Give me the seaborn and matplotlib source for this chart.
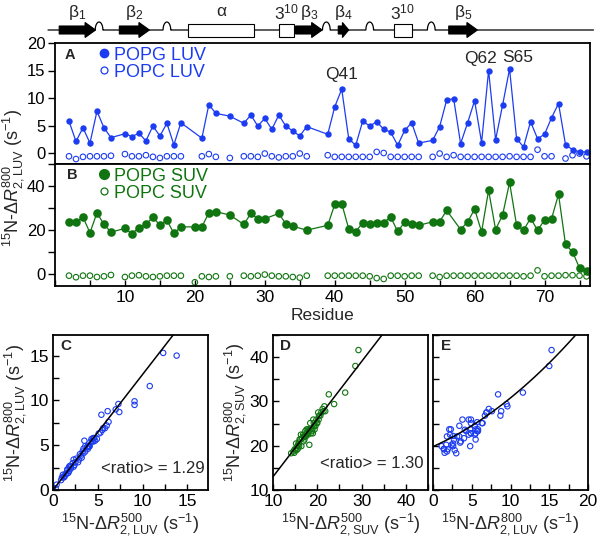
import numpy as np
import matplotlib
matplotlib.use("Agg")
import matplotlib.pyplot as plt
from matplotlib.lines import Line2D
from matplotlib.patches import Rectangle, Polygon
from matplotlib.ticker import MultipleLocator, NullFormatter
import seaborn as sns

# ---- data ----
# panel A: 15N-dR2 at 800 MHz, LUVs
res_a = [2, 3, 4, 5, 6, 7, 8, 10, 11, 12, 13, 14, 15, 16, 17, 18, 21, 22, 23, 25,
         27, 28, 29, 30, 31, 32, 33, 34, 35, 36, 39, 40, 41, 42, 43, 44, 45, 46, 47,
         48, 49, 50, 51, 52, 54, 55, 56, 57, 58, 59, 60, 61, 62, 63, 64, 65, 66, 67,
         68, 69, 70, 71, 72, 73, 74, 75, 76]
popg_luv = [5.8, 2.1, 4.6, 1.8, 7.6, 4.6, 2.8, 3.5, 3.0, 3.6, 2.2, 4.9, 3.1, 5.4, 1.5, 5.5,
            2.7, 8.8, 7.2, 6.7, 5.4, 6.9, 4.9, 6.3, 4.3, 6.9, 4.9, 4.0, 3.1, 4.8, 3.4, 8.4,
            11.6, 2.6, 1.4, 5.8, 4.9, 5.7, 4.3, 3.8, 1.4, 4.1, 5.5, 1.8, 2.3, 4.8, 9.6, 9.9,
            1.7, 5.5, 9.5, 1.9, 15.0, 2.4, 8.7, 15.3, 2.6, 1.1, 5.7, 2.6, 3.4, 6.4, 9.0,
            1.5, 0.6, 0.2, 0.2]
res_a_open = [2, 3, 4, 5, 6, 7, 8, 10, 11, 12, 13, 14, 15, 16, 17, 18, 21, 22, 23, 25,
              27, 28, 29, 30, 31, 32, 33, 34, 35, 36, 39, 40, 41, 42, 43, 44, 45, 46, 47,
              48, 49, 50, 51, 52, 54, 55, 56, 57, 58, 59, 60, 61, 62, 63, 64, 65, 66, 67,
              68, 69, 70, 71, 73, 74, 75, 76]
popc_luv = [-0.6, -1.1, -0.7, -0.6, -0.6, -0.6, -0.5, -0.2, -0.6, -0.6, -0.4, -0.7, -0.9,
            -0.6, -0.6, -0.6, -0.6, -0.2, -0.7, -0.9, -0.6, -0.6, -0.7, -0.1, -0.6, -0.8,
            -0.6, -0.6, -0.1, -0.6, -0.4, -0.7, -0.7, -0.7, -0.7, -0.7, -0.7, 0.2, 0.0,
            -0.7, -0.7, -0.7, -0.7, -0.7, -0.7, -0.1, -0.7, -0.4, -0.7, -0.7, -0.7, -0.7,
            -0.7, -0.7, -0.7, -0.6, -0.7, -0.7, -0.7, 0.6, -0.6, -0.6, -1.0, -0.4, -0.1, -0.6]

# panel B: 15N-dR2 at 800 MHz, SUVs
res_b = [2, 3, 4, 5, 6, 7, 8, 10, 11, 12, 13, 14, 15, 16, 17, 18, 20, 21, 22, 23, 25,
         27, 28, 29, 30, 32, 33, 34, 36, 39, 40, 41, 42, 43, 44, 45, 46, 47, 48, 49, 50,
         51, 52, 54, 55, 56, 58, 59, 60, 61, 62, 63, 64, 65, 66, 67, 68, 69, 70, 71, 72,
         73, 74, 75, 76]
popg_suv = [23.7, 23.7, 25.9, 18.7, 27.8, 22.5, 19.0, 20.7, 18.3, 21.0, 22.5, 25.9, 22.1,
            24.5, 18.4, 21.4, 21.4, 21.4, 27.8, 28.3, 26.8, 22.5, 27.5, 25.1, 25.1, 27.5,
            22.8, 21.7, 19.9, 22.1, 31.6, 32.0, 20.5, 19.2, 23.3, 22.8, 23.3, 23.3, 25.9,
            19.3, 23.6, 22.8, 22.1, 23.7, 23.7, 28.9, 20.2, 23.7, 29.4, 19.2, 38.0, 20.2,
            26.8, 41.6, 22.2, 19.9, 25.3, 19.9, 24.5, 25.1, 36.2, 13.4, 10.0, 2.7, 1.2]
res_b_open = [2, 3, 4, 5, 6, 7, 8, 10, 11, 12, 13, 14, 15, 16, 17, 18, 20, 21, 22, 23, 25,
              27, 28, 29, 30, 31, 32, 33, 34, 35, 36, 39, 40, 41, 42, 43, 44, 45, 46, 47,
              48, 49, 50, 51, 52, 54, 55, 56, 57, 58, 59, 60, 61, 62, 63, 64, 65, 66, 67,
              68, 69, 70, 71, 72, 73, 74, 75, 76]
popc_suv = [-0.8, -1.5, -0.8, -0.8, -1.4, -1.1, -0.5, -1.4, -0.8, -0.6, -1.1, -1.4, -1.1,
            -0.8, -0.8, -0.8, -3.8, -1.1, -1.4, -1.1, -1.1, -0.8, -1.1, -0.8, -0.3, -0.8,
            -1.1, -1.1, -1.4, -1.7, -0.8, -0.8, -0.8, -0.8, -0.8, -0.8, -0.8, -1.1, -1.9,
            -2.3, -0.8, -0.8, -1.1, -0.8, -0.8, -0.8, -1.4, -0.8, -0.8, -0.8, -0.8, -0.8,
            -0.8, -0.8, -0.8, -0.8, -0.8, -0.8, -1.1, -0.8, 1.6, -1.1, -0.8, -0.8, -0.6,
            -0.6, -0.8, -1.1]

# panel C: 500 MHz LUV values (same residues as res_a)
luv_500 = [4.6, 1.8, 3.4, 1.5, 6.2, 3.9, 2.4, 2.6, 2.2, 3.2, 1.6, 4.1, 2.8, 4.5, 1.3, 3.5,
           1.9, 6.1, 6.0, 5.5, 4.2, 5.6, 3.6, 5.1, 3.3, 5.8, 4.0, 3.0, 2.5, 3.8, 2.9, 5.4,
           10.8, 2.0, 1.2, 4.5, 3.9, 4.9, 3.6, 3.1, 1.0, 3.4, 4.4, 1.4, 1.6, 4.0, 7.3, 9.1,
           1.1, 4.7, 9.1, 1.7, 13.8, 2.0, 7.4, 12.3, 2.3, 0.9, 4.3, 1.8, 2.3, 5.3, 7.0,
           1.2, 0.4, 0.3, 0.0]
# panel D: 500 MHz SUV values (res_b up to residue 71)
suv_500 = [18.5, 17.6, 20.3, 14.6, 21.4, 17.9, 15.3, 15.8, 14.1, 16.9, 16.8, 19.1, 17.4,
           19.6, 14.8, 16.2, 17.1, 16.0, 21.8, 21.2, 20.4, 16.3, 20.9, 19.2, 18.4, 20.2,
           18.6, 16.6, 15.5, 17.0, 22.6, 26.3, 15.2, 14.9, 18.8, 17.7, 18.1, 17.3, 19.8,
           15.6, 18.2, 19.0, 16.9, 17.9, 18.9, 21.6, 18.2, 19.4, 23.8, 15.1, 28.6, 15.7,
           20.7, 29.3, 17.2, 16.4, 19.9, 15.9, 19.3, 20.0]
last_fit_res = 71
ratio_luv = 1.29
ratio_suv = 1.30
fit_e = [19.8, 0.78, 0.032]   # quadratic SUV vs LUV

# secondary structure of the protein
strands = [(0.6, 5.8), (9.2, 13.5), (34.4, 38.2), (40.5, 42.0), (56.3, 60.4)]
strand_labels = ["β$_1$", "β$_2$", "β$_3$", "β$_4$", "β$_5$"]
helices = [(19.0, 28.5), (32.1, 34.2), (48.5, 51.0)]
helix_labels = ["α", "3$^{10}$", "3$^{10}$"]
turns = [6.3, 16.0, 38.8, 45.0, 53.8]
residue_ticks = [10, 20, 30, 40, 50, 60, 70]

blue = "#1c3cf2"
green = "#107510"

sns.set_style("ticks")
plt.rcParams["font.family"] = ["Liberation Sans", "DejaVu Sans"]
plt.rcParams["mathtext.fontset"] = "custom"
plt.rcParams["mathtext.rm"] = "Liberation Sans"
plt.rcParams["mathtext.it"] = "Liberation Sans:italic"
plt.rcParams["mathtext.bf"] = "Liberation Sans:bold"
plt.rcParams["axes.linewidth"] = 1.3
plt.rcParams["axes.edgecolor"] = "black"
plt.rcParams["xtick.color"] = "black"
plt.rcParams["ytick.color"] = "black"
plt.rcParams["font.size"] = 12

TICK = 12
TICK_S = 12.5
LAB = 13

W, H = 600, 542
fig = plt.figure(figsize=(W / 100, H / 100), dpi=100)


def box(x0, y0, x1, y1):
    return [x0 / W, 1 - y1 / H, (x1 - x0) / W, (y1 - y0) / H]


def ylab(kind, field):
    return r"$^{15}$N-Δ$R^{%s}_{2,\mathrm{%s}}$ (s$^{-1}$)" % (field, kind)


xmax_res = 76.5

# ---- secondary structure strip ----
axS = fig.add_axes(box(55, 0, 590, 43))
axS.set_xlim(0, xmax_res)
axS.set_ylim(43, 0)
axS.axis("off")
base = 30
tw, th = 1.1, 8
xs, ys = [-1.0], [base]
for c in turns:
    t = np.linspace(0, np.pi, 30)
    xs += list(c - tw / 2 * np.cos(t))
    ys += list(base - th * np.sin(t))
xs.append(77.0)
ys.append(base)
axS.plot(xs, ys, color="black", lw=0.9, clip_on=False)
for (s, e), lab in zip(strands, strand_labels):
    hl = min(1.5, (e - s) * 0.6)
    pts = [(s, base - 4), (e - hl, base - 4), (e - hl, base - 7.5), (e, base),
           (e - hl, base + 7.5), (e - hl, base + 4), (s, base + 4)]
    axS.add_patch(Polygon(pts, closed=True, fc="black", ec="black", lw=0.8, zorder=3))
    axS.text((s + e) / 2, 12, lab, ha="center", va="center", fontsize=12.5)
for (s, e), lab in zip(helices, helix_labels):
    axS.add_patch(Rectangle((s, base - 6.5), e - s, 13, fc="white", ec="black", lw=0.8, zorder=3))
    axS.text((s + e) / 2, 12, lab, ha="center", va="center", fontsize=12.5)

# ---- panel A ----
axA = fig.add_axes(box(55, 43, 590, 164))
sns.lineplot(x=res_a, y=popg_luv, ax=axA, color=blue, marker="o", markersize=4.6,
             markeredgecolor=blue, markeredgewidth=0, lw=0.9)
sns.scatterplot(x=res_a_open, y=popc_luv, ax=axA, marker="o", s=16, facecolor="none",
                edgecolor=blue, linewidth=0.8)
axA.set_xlim(0, xmax_res)
axA.set_ylim(-2, 20)
axA.yaxis.set_major_locator(MultipleLocator(5))
axA.tick_params(axis="x", bottom=False, labelbottom=False)
axA.tick_params(axis="y", direction="out", length=5, width=1, labelsize=TICK, pad=2)
axA.set_xlabel("")
axA.set_ylabel("")
val_a = dict(zip(res_a, popg_luv))
for r, lab, dx, dy in [(41, "Q41", 0, 5), (62, "Q62", -6, 3), (65, "S65", 6, 3)]:
    axA.annotate(lab, xy=(r, val_a[r]), xytext=(dx, dy), textcoords="offset points",
                 ha="center", va="bottom", fontsize=12.5)
axA.text(0.018, 0.9, "A", transform=axA.transAxes, fontweight="bold", fontsize=10.5,
         va="center")
hA = [Line2D([], [], marker="o", ls="", color=blue, ms=6, label="POPG LUV"),
      Line2D([], [], marker="o", ls="", mfc="none", mec=blue, ms=5, mew=0.9, label="POPC LUV")]
leg = axA.legend(handles=hA, loc="upper left", bbox_to_anchor=(0.07, 1.03), frameon=False,
                 handlelength=0.5, handletextpad=0.3, labelspacing=0.0, fontsize=13,
                 borderaxespad=0)
for t in leg.get_texts():
    t.set_color(blue)

# ---- panel B ----
axB = fig.add_axes(box(55, 164, 590, 286))
sns.lineplot(x=res_b, y=popg_suv, ax=axB, color=green, marker="o", markersize=6.2,
             markeredgecolor=green, markeredgewidth=0, lw=0.9)
sns.scatterplot(x=res_b_open, y=popc_suv, ax=axB, marker="o", s=16, facecolor="none",
                edgecolor=green, linewidth=0.8)
axB.set_xlim(0, xmax_res)
axB.set_ylim(-5.5, 50)
axB.yaxis.set_major_locator(MultipleLocator(20))
axB.yaxis.set_minor_locator(MultipleLocator(10))
axB.set_xticks(residue_ticks)
axB.xaxis.set_minor_locator(MultipleLocator(5))
axB.tick_params(axis="y", which="both", direction="out", length=5, width=1, labelsize=TICK, pad=2)
axB.tick_params(axis="x", which="both", direction="in", length=4.5, width=1, labelsize=TICK_S, pad=3)
axB.set_xlabel("")
axB.set_ylabel("")
axB.text(0.022, 0.91, "B", transform=axB.transAxes, fontweight="bold", fontsize=10.5,
         va="center")
hB = [Line2D([], [], marker="o", ls="", color=green, ms=7, label="POPG SUV"),
      Line2D([], [], marker="o", ls="", mfc="none", mec=green, ms=5, mew=0.9, label="POPC SUV")]
leg = axB.legend(handles=hB, loc="upper left", bbox_to_anchor=(0.07, 1.03), frameon=False,
                 handlelength=0.5, handletextpad=0.3, labelspacing=0.0, fontsize=13,
                 borderaxespad=0)
for t in leg.get_texts():
    t.set_color(green)

fig.text(13 / W, 1 - 178 / H, ylab("LUV", "800"), rotation=90, ha="center", va="center",
         fontsize=LAB)
fig.text(322 / W, 1 - 315 / H, "Residue", ha="center", va="center", fontsize=12.5)

# ---- scatter panels ----
val_b = dict(zip(res_b, popg_suv))
res_d = [r for r in res_b if r <= last_fit_res]
y_d = [val_b[r] for r in res_d]
res_e = [r for r in res_a if r in val_b and r <= last_fit_res]
x_e = [val_a[r] for r in res_e]
y_e = [val_b[r] for r in res_e]


def style_scatter(ax, lim, major, minor, ylim=None, ylabels=True):
    ax.set_xlim(*lim)
    ax.set_ylim(*(ylim if ylim else lim))
    ax.xaxis.set_major_locator(MultipleLocator(major[0]))
    ax.xaxis.set_minor_locator(MultipleLocator(minor[0]))
    ax.yaxis.set_major_locator(MultipleLocator(major[1]))
    ax.yaxis.set_minor_locator(MultipleLocator(minor[1]))
    ax.tick_params(which="both", direction="in", length=4, width=1, labelsize=TICK_S, pad=3)
    if not ylabels:
        ax.yaxis.set_major_formatter(NullFormatter())


axC = fig.add_axes(box(53, 335, 208, 490))
sns.scatterplot(x=luv_500, y=popg_luv, ax=axC, marker="o", s=15, facecolor="none",
                edgecolor=blue, linewidth=0.8)
xl = np.linspace(0, 17.3, 50)
axC.plot(xl, ratio_luv * xl, color="black", lw=1.1)
style_scatter(axC, (0, 17.3), (5, 5), (2.5, 2.5))
axC.text(0.045, 0.93, "C", transform=axC.transAxes, fontweight="bold", fontsize=11, va="center")
axC.text(0.98, 0.14, "<ratio> = %.2f" % ratio_luv, transform=axC.transAxes, ha="right",
         va="center", fontsize=12)
axC.set_xlabel(ylab("LUV", "500"), fontsize=LAB, labelpad=1)
axC.set_ylabel(ylab("LUV", "800"), fontsize=LAB, labelpad=1)

axD = fig.add_axes(box(273, 335, 428, 490))
sns.scatterplot(x=suv_500, y=y_d, ax=axD, marker="o", s=15, facecolor="none",
                edgecolor=green, linewidth=0.8)
xl = np.linspace(10, 45, 50)
axD.plot(xl, ratio_suv * xl, color="black", lw=1.1)
style_scatter(axD, (10, 45), (10, 10), (5, 5))
axD.text(0.045, 0.93, "D", transform=axD.transAxes, fontweight="bold", fontsize=11, va="center")
axD.text(0.97, 0.17, "<ratio> = %.2f" % ratio_suv, transform=axD.transAxes, ha="right",
         va="center", fontsize=12)
axD.set_xlabel(ylab("SUV", "500"), fontsize=LAB, labelpad=1)
axD.set_ylabel(ylab("SUV", "800"), fontsize=LAB, labelpad=1)

axE = fig.add_axes(box(433, 335, 588, 490))
sns.scatterplot(x=x_e, y=y_e, ax=axE, marker="o", s=15, facecolor="none",
                edgecolor=blue, linewidth=0.8)
xl = np.linspace(0, 20, 80)
axE.plot(xl, fit_e[0] + fit_e[1] * xl + fit_e[2] * xl ** 2, color="black", lw=1.1)
style_scatter(axE, (0, 20), (5, 10), (2.5, 5), ylim=(10, 45), ylabels=False)
axE.text(0.05, 0.93, "E", transform=axE.transAxes, fontweight="bold", fontsize=11, va="center")
axE.set_xlabel(ylab("LUV", "800"), fontsize=LAB, labelpad=1)
axE.set_ylabel("")

fig.savefig("out.png", dpi=100)
